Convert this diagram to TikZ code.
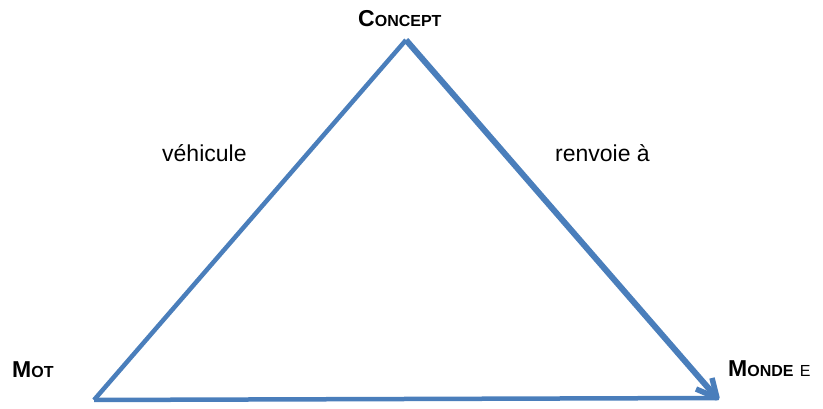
\documentclass[tikz,border=0pt]{standalone}
\usepackage{fontspec}
\setmainfont{Liberation Sans}
\definecolor{trianglecolor}{RGB}{74,126,187}
\newcommand{\petitcap}[1]{{\fontsize{16}{17}\selectfont #1}}
\begin{document}
\begin{tikzpicture}[
        x=1pt, y=1pt,
        every node/.style={inner sep=0pt, anchor=base west, font=\fontsize{23}{25}\selectfont},
        side/.style={draw=trianglecolor, line width=4.5pt},
        refers/.style={side, line width=6pt, shorten >=2pt},
        barbs/.style={side, line width=5.5pt, line join=round}
    ]
    \useasboundingbox (0,0) rectangle (823,409);
    % corners of the triangle
    \coordinate (mot) at (94,9);
    \coordinate (concept) at (406,369);
    \coordinate (monde) at (717,11);
    % labels
    \node (motlabel) at (12,31) {\textbf{M\petitcap{OT}}};
    \node (conceptlabel) at (358,382) {\textbf{C\petitcap{ONCEPT}}};
    \node (mondelabel) at (728,32) {\textbf{M\petitcap{ONDE}} \petitcap{E}};
    \node (vehicule) at (162,247) {véhicule};
    \node (renvoie) at (555,247) {renvoie à};
    % sides
    \draw[side] (mot) -- (concept);
    \draw[side] (mot) -- (monde);
    \draw[refers] (concept) -- (monde);
    % arrow head at monde
    \draw[barbs] ([shift={(-21,9)}]monde) -- (monde) -- ([shift={(-5,20)}]monde);
\end{tikzpicture}
\end{document}
